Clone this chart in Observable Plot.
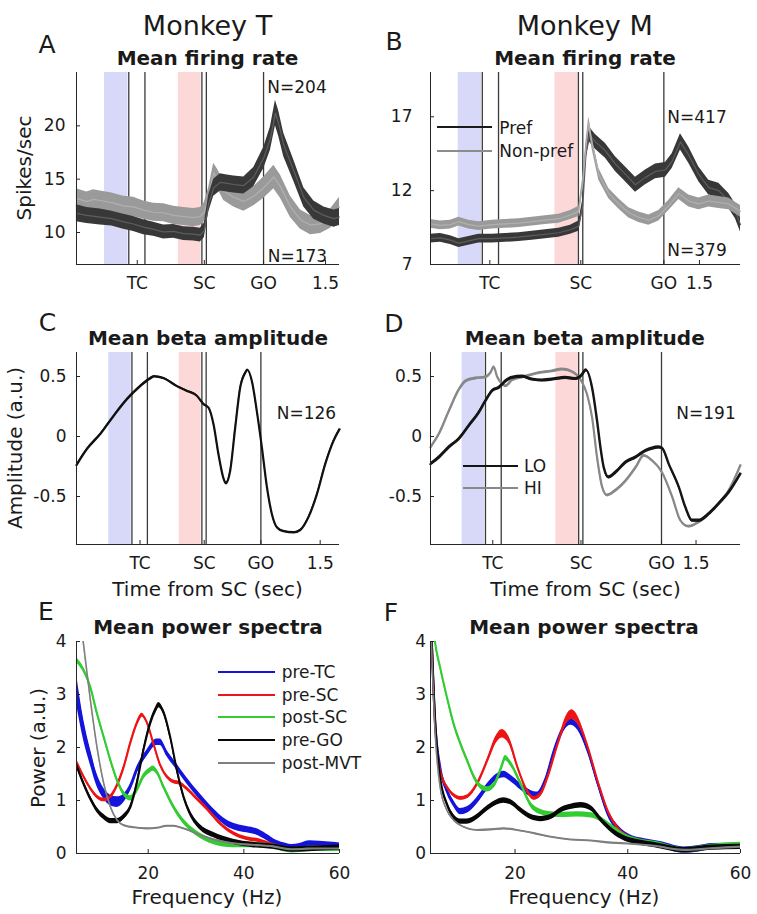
<!DOCTYPE html>
<html><head><meta charset="utf-8">
<script src="https://cdn.jsdelivr.net/npm/d3@7"></script>
<script src="https://cdn.jsdelivr.net/npm/@observablehq/plot@0.6"></script>
<style>
body{margin:0;background:#fff;}
#fig{position:relative;width:757px;height:914px;overflow:hidden;font-family:"DejaVu Sans",sans-serif;color:#1a1a1a;background:#fff;}
</style></head>
<body><div id="fig"></div>
<script>
// ---------------- DATA ----------------
// Event markers, seconds from SC
const eventsT = [-0.935, -0.735, -0.03, 0.025, 0.733];
const blueT = [-1.235, -0.945];
const redT = [-0.322, -0.04];
const tcT = -0.83, goT = 0.733;
const eventsM = [-1.245, -1.04, -0.03, 0.025, 1.05];
const blueM = [-1.55, -1.255];
const redM = [-0.327, -0.033];
const tcM = -1.15, goM = 1.05;
const timeTickLabels = ["TC", "SC", "GO", "1.5"];

// Panel A: firing rate, Monkey T  [t, mean, sem]
const rateT_pref = [[-1.583,11.8,0.8],[-1.455,11.6,0.75],[-1.289,11.45,0.75],[-1.145,11.3,0.7],[-1.0,11.0,0.7],[-0.876,10.8,0.7],[-0.752,10.5,0.7],[-0.628,10.3,0.65],[-0.504,10.05,0.65],[-0.38,10.1,0.65],[-0.256,9.9,0.65],[-0.132,9.85,0.65],[-0.05,9.75,0.65],[0,10.2,0.7],[0.054,12.7,0.8],[0.116,14.2,0.8],[0.198,14.7,0.8],[0.281,14.6,0.8],[0.364,14.5,0.8],[0.488,14.4,0.8],[0.612,15.2,0.9],[0.736,17.0,1.0],[0.818,18.8,1.1],[0.88,21.2,1.2],[0.921,20.2,1.2],[0.983,18.2,1.1],[1.107,15.8,1.0],[1.231,13.3,0.9],[1.355,12.1,0.85],[1.479,11.6,0.8],[1.603,11.3,0.8],[1.673,11.45,0.8]];
const rateT_non = [[-1.583,13.2,0.9],[-1.455,12.9,0.9],[-1.37,13.1,0.9],[-1.289,13.0,0.9],[-1.145,12.8,0.9],[-1.0,12.5,0.9],[-0.876,12.4,0.9],[-0.752,12.1,0.85],[-0.628,11.9,0.85],[-0.504,11.85,0.85],[-0.38,11.6,0.85],[-0.256,11.5,0.85],[-0.132,11.4,0.85],[-0.05,11.5,0.85],[0,11.9,0.9],[0.054,13.3,0.9],[0.116,15.6,0.9],[0.165,15.0,0.9],[0.24,13.9,0.9],[0.364,13.3,0.9],[0.488,12.9,0.9],[0.612,13.4,0.9],[0.736,14.2,1.0],[0.86,15.2,1.1],[0.942,14.3,1.1],[1.066,12.4,1.0],[1.19,11.2,0.9],[1.314,10.7,0.9],[1.438,10.8,0.9],[1.562,11.3,0.9],[1.673,12.4,0.9]];

// Panel B: firing rate, Monkey M
const rateM_pref = [[-1.9,8.75,0.3],[-1.774,8.8,0.3],[-1.648,8.65,0.3],[-1.542,8.45,0.3],[-1.416,8.6,0.3],[-1.29,8.75,0.3],[-1.121,8.75,0.3],[-0.952,8.8,0.3],[-0.784,8.85,0.3],[-0.615,8.95,0.3],[-0.447,9.05,0.3],[-0.278,9.15,0.3],[-0.131,9.35,0.3],[-0.025,9.6,0.35],[0.025,11.0,0.4],[0.067,14.6,0.5],[0.11,15.8,0.5],[0.185,15.3,0.5],[0.312,14.7,0.5],[0.438,13.8,0.5],[0.565,13.1,0.5],[0.691,12.4,0.5],[0.818,12.9,0.5],[0.944,13.3,0.5],[1.07,13.4,0.5],[1.155,14.0,0.5],[1.26,15.3,0.55],[1.365,14.4,0.55],[1.492,13.1,0.5],[1.618,12.2,0.5],[1.745,12.0,0.5],[1.871,11.3,0.5],[1.955,10.6,0.5],[2.019,9.7,0.5]];
const rateM_non = [[-1.9,9.75,0.3],[-1.774,9.65,0.3],[-1.648,9.7,0.3],[-1.542,9.9,0.3],[-1.416,9.7,0.3],[-1.29,9.6,0.3],[-1.121,9.7,0.3],[-0.952,9.75,0.3],[-0.784,9.8,0.3],[-0.615,9.9,0.3],[-0.447,10.0,0.3],[-0.278,10.1,0.3],[-0.131,10.35,0.3],[-0.025,10.6,0.35],[0.025,12.5,0.4],[0.067,15.0,0.4],[0.101,16.6,0.4],[0.143,15.2,0.4],[0.228,13.1,0.4],[0.354,11.8,0.35],[0.48,11.1,0.35],[0.607,10.5,0.35],[0.733,10.2,0.35],[0.86,10.0,0.35],[0.986,10.3,0.35],[1.113,11.0,0.35],[1.239,11.8,0.4],[1.365,11.3,0.4],[1.492,11.1,0.4],[1.618,11.3,0.4],[1.745,11.2,0.4],[1.871,11.1,0.4],[2.019,10.6,0.4]];

// Panel C: beta amplitude, Monkey T
const betaT = [[-1.652,-0.238],[-1.518,-0.105],[-1.345,0.02],[-1.173,0.17],[-1.0,0.31],[-0.828,0.42],[-0.699,0.484],[-0.647,0.5],[-0.526,0.485],[-0.354,0.42],[-0.224,0.38],[-0.095,0.34],[-0.009,0.27],[0.056,0.24],[0.121,0.1],[0.185,-0.15],[0.25,-0.35],[0.28,-0.39],[0.336,-0.285],[0.401,0.075],[0.466,0.41],[0.53,0.53],[0.561,0.554],[0.617,0.46],[0.681,0.21],[0.746,-0.09],[0.811,-0.42],[0.875,-0.645],[0.94,-0.756],[1.026,-0.79],[1.156,-0.8],[1.242,-0.78],[1.35,-0.67],[1.458,-0.48],[1.565,-0.23],[1.673,-0.036],[1.751,0.06]];

// Panel D: beta amplitude, Monkey M
const betaM_lo = [[-1.962,-0.23],[-1.854,-0.175],[-1.724,-0.09],[-1.593,-0.02],[-1.463,0.09],[-1.333,0.2],[-1.246,0.296],[-1.159,0.38],[-1.072,0.407],[-0.985,0.46],[-0.898,0.49],[-0.768,0.5],[-0.637,0.476],[-0.507,0.468],[-0.376,0.476],[-0.203,0.49],[-0.072,0.48],[-0.007,0.5],[0.067,0.553],[0.145,0.407],[0.21,0.13],[0.254,-0.09],[0.297,-0.257],[0.362,-0.34],[0.449,-0.3],[0.58,-0.216],[0.71,-0.174],[0.84,-0.12],[0.927,-0.1],[1.014,-0.09],[1.058,-0.097],[1.145,-0.23],[1.275,-0.42],[1.362,-0.59],[1.449,-0.7],[1.536,-0.7],[1.666,-0.645],[1.796,-0.56],[1.927,-0.465],[2.079,-0.31]];
const betaM_hi = [[-1.962,-0.09],[-1.854,0.02],[-1.724,0.21],[-1.593,0.39],[-1.506,0.46],[-1.376,0.485],[-1.246,0.495],[-1.181,0.53],[-1.137,0.58],[-1.094,0.5],[-1.029,0.44],[-0.985,0.42],[-0.898,0.47],[-0.724,0.5],[-0.55,0.53],[-0.376,0.545],[-0.246,0.56],[-0.116,0.54],[-0.007,0.476],[0.08,0.35],[0.145,0.16],[0.21,-0.175],[0.276,-0.42],[0.341,-0.49],[0.449,-0.45],[0.58,-0.37],[0.71,-0.26],[0.819,-0.16],[0.927,-0.2],[1.058,-0.3],[1.188,-0.5],[1.297,-0.7],[1.405,-0.75],[1.536,-0.714],[1.666,-0.645],[1.796,-0.56],[1.927,-0.45],[2.079,-0.24]];

// Panel E: power spectra, Monkey T  [Hz, power, (band)]
const specT_preTC = [[5,3.1,0.28],[6.5,2.33,0.2],[7.9,1.82,0.15],[9.3,1.38,0.12],[10.7,1.13,0.1],[12.1,1.0,0.1],[13.5,0.97,0.1],[14.9,1.04,0.08],[16.3,1.26,0.06],[17.6,1.57],[19.7,1.89],[21.8,2.1],[22.5,2.1],[23.9,1.89],[26,1.63],[28,1.38],[30.8,1.07],[33.6,0.79],[36.4,0.57],[38.5,0.49],[40.6,0.45],[42.6,0.41],[44.7,0.31],[46.8,0.19],[48.9,0.13],[50,0.11],[51.7,0.13],[53.8,0.18],[55.8,0.17],[58.6,0.15],[60,0.14]];
const specT_preSC = [[5,1.73],[6.5,1.45],[7.9,1.23],[9.3,1.07],[10.7,1.01],[12.1,1.07],[13.5,1.29],[14.9,1.64],[16.3,2.1],[17.6,2.45],[18.7,2.61],[19.7,2.48],[21.1,2.07],[22.5,1.67],[23.9,1.45],[25.3,1.35],[26.7,1.32],[28,1.23],[30.1,1.04],[32.2,0.85],[35,0.57],[37.8,0.38],[40.6,0.28],[43.3,0.24],[46.1,0.16],[48.9,0.09],[50,0.075],[53.1,0.09],[55.8,0.11],[60,0.09]];
const specT_postSC = [[5,3.65],[6.5,3.46],[7.9,3.14],[9.3,2.64],[10.7,2.2],[12.1,1.76],[13.5,1.38],[14.9,1.13],[16.3,1.04],[17.6,1.19],[19,1.45],[20.4,1.57],[21,1.6],[21.8,1.54],[23.2,1.26],[25.3,0.88],[27.4,0.6],[30.1,0.38],[33.6,0.22],[37.8,0.16],[41.9,0.16],[46.1,0.13],[50,0.06],[54.4,0.09],[60,0.09]];
const specT_preGO = [[5,1.67],[6.5,1.32],[7.9,1.04],[9.3,0.82],[10.7,0.69],[12.1,0.61],[13.5,0.61],[14.9,0.69],[16.3,0.88],[17.6,1.32],[19,1.95],[20.4,2.45],[21.5,2.7],[22.2,2.8],[23.2,2.67],[24.6,2.2],[26,1.57],[27.4,1.07],[28.8,0.75],[30.8,0.5],[33.6,0.35],[37.8,0.22],[41.9,0.16],[46.1,0.13],[50,0.075],[54.4,0.09],[60,0.11]];
const specT_postMVT = [[5,5.0],[6.4,4.0],[7.9,2.9],[9.3,2.0],[10.7,1.32],[12.1,0.88],[13.5,0.63],[14.9,0.53],[17,0.49],[19.7,0.47],[21.8,0.48],[23.9,0.52],[25.3,0.52],[27.4,0.47],[30.8,0.35],[34.3,0.25],[37.8,0.19],[41.9,0.16],[46.1,0.13],[50,0.075],[54.4,0.09],[60,0.09]];

// Panel F: power spectra, Monkey M
const specM_preTC = [[5,4.6],[5.8,2.5],[6.7,1.64],[7.9,1.19],[9.1,0.94],[10.3,0.79],[11.5,0.82],[13.3,1.0],[15.1,1.26],[16.9,1.45],[18,1.49],[19.2,1.42],[21,1.26],[22.8,1.13],[24,1.1],[25.2,1.32],[27,1.95],[28.8,2.39],[29.9,2.48],[31.1,2.39],[32.9,1.95],[34.7,1.32],[36.5,0.75],[38.3,0.47],[40.7,0.28],[43,0.22],[46,0.16],[50,0.063],[52.6,0.09],[54.9,0.13],[60,0.14]];
const specM_preSC = [[5,4.8],[5.8,2.45],[6.7,1.57],[7.9,1.26],[9.1,1.1],[10.3,1.04],[11.5,1.07],[13.3,1.32],[15.1,1.76],[16.6,2.14,0.07],[17.7,2.26,0.08],[18.9,2.14,0.07],[20.4,1.64],[21.9,1.23],[23.4,1.04],[24.6,1.13],[25.8,1.45],[27.6,2.08],[29.1,2.52,0.08],[30.1,2.62,0.09],[31.1,2.52,0.08],[32.9,2.01],[34.7,1.35],[36.5,0.79],[38.3,0.47],[40.7,0.28],[43,0.22],[46,0.16],[50,0.063],[54.9,0.126],[60,0.11]];
const specM_postSC = [[5,4.9],[5.8,4.0],[6.7,3.52],[7.9,2.96],[9.1,2.45],[10.3,2.08],[11.5,1.76],[12.7,1.45],[13.9,1.26],[15.1,1.21],[16.3,1.29],[17.4,1.57],[18.3,1.8],[19.2,1.7],[21,1.32],[22.8,0.92],[24.6,0.78],[26.4,0.74],[28.8,0.73],[31.1,0.74],[33.5,0.72],[35.3,0.64],[37.1,0.5],[39.5,0.32],[41.9,0.23],[44.8,0.18],[50,0.063],[54.9,0.126],[60,0.16]];
const specM_preGO = [[5,4.7],[5.8,2.58],[6.7,1.45],[7.9,0.94],[9.1,0.69],[10.3,0.6],[11.5,0.6],[13.3,0.69],[15.1,0.85],[16.9,0.97],[18,1.0],[19.2,0.97],[21,0.82],[22.8,0.69],[24.6,0.65],[26.4,0.69],[28.2,0.82],[29.9,0.88],[31.7,0.91],[33.5,0.85],[35.3,0.63],[37.1,0.44],[39.5,0.28],[41.9,0.21],[44.8,0.157],[50,0.063],[54.9,0.11],[60,0.126]];
const specM_postMVT = [[5,4.5],[5.8,2.33],[6.7,1.26],[7.9,0.82],[9.1,0.63],[10.9,0.5],[13.3,0.44],[15.7,0.45],[18,0.47],[20.4,0.44],[23.4,0.38],[26.4,0.31],[29.9,0.26],[33.5,0.24],[37.1,0.2],[40.7,0.18],[44.8,0.14],[50,0.063],[54.9,0.094],[60,0.126]];

const specNames = ["pre-TC", "pre-SC", "post-SC", "pre-GO", "post-MVT"];
const specColors = ["#1414dc", "#ee1414", "#33cc33", "#080808", "#7f7f7f"];
const specBand = [0.06, 0.035, 0.05, 0.05, 0.015];
const specStroke = [2.2, 2, 2, 2, 1.6];

// ---------------- DRAWING ----------------
const fig = document.getElementById("fig");
const FONT = '"DejaVu Sans", sans-serif';
const AX = "#262626";

function rows(arr, hw = 0) {
  return arr.map(d => ({x: d[0], v: d[1], lo: d[1] - (d[2] ?? hw), hi: d[1] + (d[2] ?? hw)}));
}
function bandLine(arr, fill, stroke, sw, curve, hw, clip = false) {
  const r = rows(arr, hw);
  return [
    Plot.areaY(r, {x: "x", y1: "lo", y2: "hi", fill, curve, clip}),
    Plot.line(r, {x: "x", y: "v", stroke, strokeWidth: sw, curve, clip})
  ];
}
function place(svg, left, top) {
  svg.style.position = "absolute";
  svg.style.left = left + "px";
  svg.style.top = top + "px";
  fig.appendChild(svg);
}
function panel(o) {
  const fw = o.width - o.mL - o.mR, fh = o.height - o.mT - o.mB;
  const [y0, y1] = o.yDomain;
  const pre = [];
  if (o.blue) {
    pre.push(Plot.rect([o.blue], {x1: d => d[0], x2: d => d[1], y1: () => y0, y2: () => y1, fill: "#d8d8f8"}));
    pre.push(Plot.rect([o.red], {x1: d => d[0], x2: d => d[1], y1: () => y0, y2: () => y1, fill: "#fcd8d8"}));
    pre.push(Plot.ruleX(o.events, {x: d => d, stroke: "#3a3a3a", strokeWidth: 1.3}));
  }
  const svg = Plot.plot({
    width: o.width, height: o.height,
    marginTop: o.mT, marginRight: o.mR, marginBottom: o.mB, marginLeft: o.mL,
    style: {fontFamily: FONT, fontSize: "17px", color: "#1a1a1a", background: "transparent", overflow: "visible"},
    x: {domain: o.xDomain, ticks: o.xTicks, tickFormat: o.xFormat, tickSize: 0, tickPadding: o.xPad, label: null},
    y: {domain: o.yDomain, ticks: o.yTicks, tickFormat: d => String(d), tickSize: 0, tickPadding: o.yPad, label: null},
    marks: [
      ...pre,
      ...o.marks,
      Plot.ruleX([o.xDomain[0]], {stroke: AX, strokeWidth: 1}),
      Plot.ruleY([y0], {stroke: AX, strokeWidth: 1}),
      Plot.tickX(o.xTicks, {x: d => d, insetTop: fh - 4, stroke: AX}),
      Plot.tickY(o.yTicks, {y: d => d, insetRight: fw - 4, stroke: AX})
    ]
  });
  place(svg, o.left, o.top);
}

const L = {left: 0, width: 378, mL: 76, mR: 39};
const R = {left: 378, width: 379, mL: 52, mR: 17};
const row1 = {top: 0, height: 300, mT: 72, mB: 36, xPad: 12.5};
const row2 = {top: 300, height: 290, mT: 52, mB: 46, xPad: 12};
const row3 = {top: 590, height: 324, mT: 51, mB: 61, xPad: 13};

const tTicksT = [tcT, 0, goT, 1.5];
const tTicksM = [tcM, 0, goM, 1.5];
const fmtT = d => timeTickLabels[tTicksT.indexOf(d)];
const fmtM = d => timeTickLabels[tTicksM.indexOf(d)];

// A
panel({...L, ...row1, xDomain: [-1.582, 1.673], yDomain: [7, 25], yTicks: [10, 15, 20], yPad: 11,
  xTicks: tTicksT, xFormat: fmtT, events: eventsT, blue: blueT, red: redT,
  marks: [...bandLine(rateT_non, "#9a9a9a", "#b0b0b0", 1.2, "linear"),
          ...bandLine(rateT_pref, "#383838", "#5e5e5e", 1.2, "linear")]});
// B
panel({...R, ...row1, xDomain: [-1.9, 2.019], yDomain: [7, 20], yTicks: [7, 12, 17], yPad: 18,
  xTicks: tTicksM, xFormat: fmtM, events: eventsM, blue: blueM, red: redM,
  marks: [...bandLine(rateM_pref, "#383838", "#5e5e5e", 1.2, "linear"),
          ...bandLine(rateM_non, "#9a9a9a", "#b0b0b0", 1.2, "linear")]});
// C
panel({...L, ...row2, xDomain: [-1.652, 1.75], yDomain: [-0.9, 0.7], yTicks: [-0.5, 0, 0.5], yPad: 10,
  xTicks: tTicksT, xFormat: fmtT, events: eventsT, blue: blueT, red: redT,
  marks: [...bandLine(betaT, "#111", "#111", 2.2, "monotone-x", 0.008)]});
// D
panel({...R, ...row2, xDomain: [-1.962, 2.08], yDomain: [-0.9, 0.7], yTicks: [-0.5, 0, 0.5], yPad: 8.5,
  xTicks: tTicksM, xFormat: fmtM, events: eventsM, blue: blueM, red: redM,
  marks: [...bandLine(betaM_hi, "#888", "#888", 2.2, "monotone-x", 0.01),
          ...bandLine(betaM_lo, "#151515", "#151515", 2.4, "monotone-x", 0.012)]});
// E
const specT = [specT_preTC, specT_preSC, specT_postSC, specT_preGO, specT_postMVT];
panel({...L, ...row3, xDomain: [5, 60], yDomain: [0, 4], yTicks: [0, 1, 2, 3, 4], yPad: 10,
  xTicks: [20, 40, 60], xFormat: d => String(d),
  marks: specT.flatMap((s, i) => bandLine(s, specColors[i], specColors[i], specStroke[i], "monotone-x", specBand[i], true))});
// F
const specM = [specM_preTC, specM_preSC, specM_postSC, specM_preGO, specM_postMVT];
panel({...R, ...row3, xDomain: [5, 60], yDomain: [0, 4], yTicks: [0, 1, 2, 3, 4], yPad: 4.5,
  xTicks: [20, 40, 60], xFormat: d => String(d),
  marks: specM.flatMap((s, i) => bandLine(s, specColors[i], specColors[i], specStroke[i], "monotone-x", specBand[i], true))});

// ---------------- TEXT & LEGENDS ----------------
function txt(s, x, y, {size = 17, bold = false, anchor = "middle", rotate = false} = {}) {
  const d = document.createElement("div");
  d.textContent = s;
  const tr = (anchor === "middle" ? "translate(-50%,-50%)" : "translate(0,-50%)") + (rotate ? " rotate(-90deg)" : "");
  d.style.cssText = `position:absolute;left:${x}px;top:${y}px;font-size:${size}px;font-weight:${bold ? "bold" : "normal"};white-space:nowrap;line-height:1;transform:${tr};`;
  fig.appendChild(d);
}
function swatch(x1, x2, y, color, w) {
  const d = document.createElement("div");
  d.style.cssText = `position:absolute;left:${x1}px;top:${y - w / 2}px;width:${x2 - x1}px;height:${w}px;background:${color};`;
  fig.appendChild(d);
}

txt("Monkey T", 207.5, 25, {size: 27});
txt("Monkey M", 584.7, 25, {size: 27});
txt("A", 47, 44, {size: 25}); txt("B", 394, 41, {size: 25});
txt("C", 47.5, 322, {size: 25}); txt("D", 394, 323, {size: 25});
txt("E", 46, 611, {size: 25}); txt("F", 391, 612, {size: 25});
txt("Mean firing rate", 207.5, 58.3, {size: 20, bold: true});
txt("Mean firing rate", 585, 58.3, {size: 20, bold: true});
txt("Mean beta amplitude", 208, 338.3, {size: 20, bold: true});
txt("Mean beta amplitude", 584.7, 338.3, {size: 20, bold: true});
txt("Mean power spectra", 208, 626.7, {size: 20, bold: true});
txt("Mean power spectra", 584, 626.7, {size: 20, bold: true});
txt("Time from SC (sec)", 207.5, 588.7, {size: 20});
txt("Time from SC (sec)", 585.5, 588.7, {size: 20});
txt("Frequency (Hz)", 207, 896.7, {size: 20});
txt("Frequency (Hz)", 583.8, 896.7, {size: 20});
txt("Spikes/sec", 23.5, 167.7, {size: 20, rotate: true});
txt("Amplitude (a.u.)", 14.8, 447.5, {size: 20, rotate: true});
txt("Power (a.u.)", 38.3, 747.5, {size: 20, rotate: true});

txt("N=204", 267.3, 87.2, {anchor: "start"});
txt("N=173", 267.7, 255.7, {anchor: "start"});
txt("N=417", 667.3, 116.7, {anchor: "start"});
txt("N=379", 667.3, 250, {anchor: "start"});
txt("N=126", 276.7, 412.5, {anchor: "start"});
txt("N=191", 676.3, 413.3, {anchor: "start"});

// Legend B
swatch(436.7, 491.7, 127.3, "#1a1a1a", 2); txt("Pref", 499.3, 127.5, {anchor: "start"});
swatch(436.7, 491.7, 151, "#8c8c8c", 2); txt("Non-pref", 499.3, 151, {anchor: "start"});
// Legend D
swatch(463, 518, 465.7, "#151515", 2.2); txt("LO", 524, 465.7, {anchor: "start"});
swatch(463, 518, 488.3, "#888", 2.2); txt("HI", 524, 488.3, {anchor: "start"});
// Legend E
const legY = [671.7, 695, 717.3, 740, 763.3];
specNames.forEach((n, i) => {
  swatch(218.3, 275, legY[i], specColors[i], i === 4 ? 2 : 2.4);
  txt(n, 281.7, legY[i], {anchor: "start"});
});
</script></body></html>
